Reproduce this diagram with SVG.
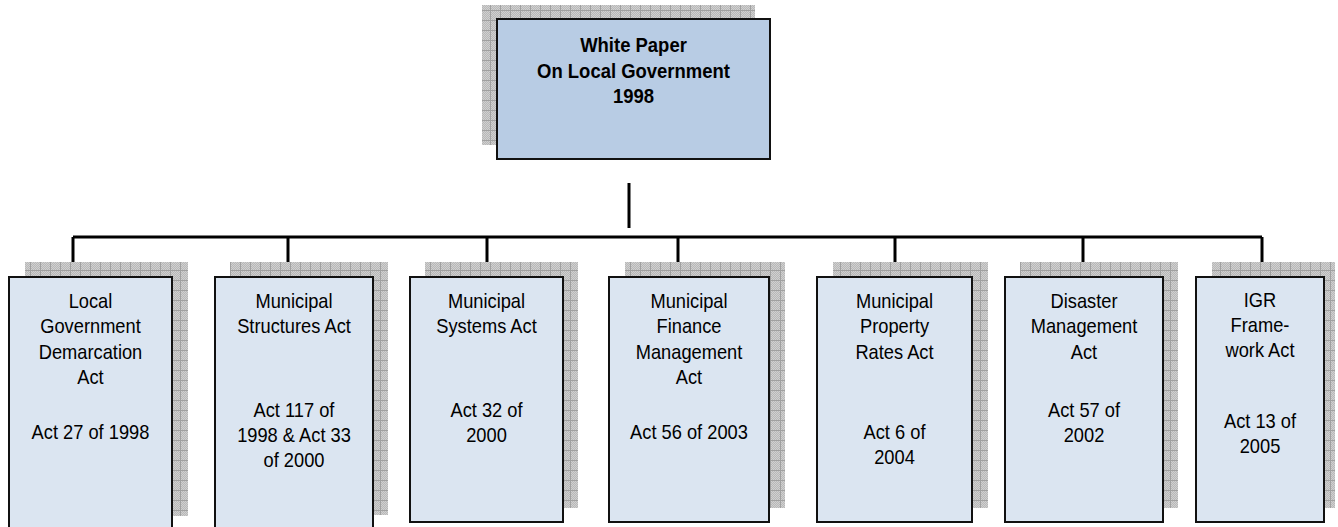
<svg xmlns="http://www.w3.org/2000/svg" width="1338" height="527" viewBox="0 0 1338 527">
  <defs>
    <!-- fine stipple used inside the shadow grid cells -->
    <pattern id="stipple" width="2" height="2" patternUnits="userSpaceOnUse">
      <rect width="2" height="2" fill="#b8b8b8"/>
      <rect width="1" height="1" fill="#d0d0d0"/>
      <rect x="1" y="1" width="1" height="1" fill="#d0d0d0"/>
    </pattern>
    <!-- gridded shadow texture -->
    <pattern id="grid" width="10" height="10" patternUnits="userSpaceOnUse">
      <rect width="10" height="10" fill="url(#stipple)"/>
      <rect width="10" height="1" fill="#a0a0a0"/>
      <rect width="1" height="10" fill="#a0a0a0"/>
    </pattern>
  </defs>
  <style>
    .shadow { fill: url(#grid); }
    .top { fill: #b8cce4; stroke: #111; stroke-width: 2; }
    .act { fill: #dbe5f1; stroke: #111; stroke-width: 2; }
    .wire { fill: none; stroke: #000; stroke-width: 3; }
    text { font-family: "Liberation Sans", Arial, sans-serif; font-size: 21px; fill: #000; text-anchor: middle; }
    .bold { font-weight: bold; }
  </style>

  <rect width="1338" height="527" fill="#fff"/>

  <!-- connectors -->
  <g id="connectors">
    <line class="wire" x1="629" y1="183" x2="629" y2="228"/>
    <line class="wire" x1="73" y1="237" x2="1262" y2="237"/>
    <line class="wire" x1="73" y1="237" x2="73" y2="268"/>
    <line class="wire" x1="288" y1="237" x2="288" y2="268"/>
    <line class="wire" x1="487" y1="237" x2="487" y2="268"/>
    <line class="wire" x1="678" y1="237" x2="678" y2="268"/>
    <line class="wire" x1="895" y1="237" x2="895" y2="268"/>
    <line class="wire" x1="1083" y1="237" x2="1083" y2="268"/>
    <line class="wire" x1="1262" y1="237" x2="1262" y2="268"/>
  </g>

  <!-- root node; labels use a condensed horizontal scale -->
  <g id="white-paper">
    <rect class="shadow" x="482" y="5" width="273" height="140"/>
    <rect class="top" x="497" y="19" width="273" height="140"/>
    <g transform="translate(633.5 0) scale(0.88 1)">
      <text class="bold" x="0" y="52">White Paper</text>
      <text class="bold" x="0" y="78">On Local Government</text>
      <text class="bold" x="0" y="103">1998</text>
    </g>
  </g>

  <g id="demarcation-act">
    <rect class="shadow" x="25" y="262" width="163" height="254"/>
    <rect class="act" x="9" y="277" width="163" height="260"/>
    <g transform="translate(90.5 0) scale(0.87 1)">
      <text x="0" y="308">Local</text>
      <text x="0" y="333">Government</text>
      <text x="0" y="359">Demarcation</text>
      <text x="0" y="384">Act</text>
      <text x="0" y="439">Act 27 of 1998</text>
    </g>
  </g>

  <g id="structures-act">
    <rect class="shadow" x="230" y="262" width="158" height="253"/>
    <rect class="act" x="215" y="277" width="158" height="260"/>
    <g transform="translate(294 0) scale(0.87 1)">
      <text x="0" y="308">Municipal</text>
      <text x="0" y="333">Structures Act</text>
      <text x="0" y="417">Act 117 of</text>
      <text x="0" y="442">1998 &amp; Act 33</text>
      <text x="0" y="467">of 2000</text>
    </g>
  </g>

  <g id="systems-act">
    <rect class="shadow" x="425" y="262" width="153" height="246"/>
    <rect class="act" x="410" y="277" width="153" height="245"/>
    <g transform="translate(486.5 0) scale(0.87 1)">
      <text x="0" y="308">Municipal</text>
      <text x="0" y="333">Systems Act</text>
      <text x="0" y="417">Act 32 of</text>
      <text x="0" y="442">2000</text>
    </g>
  </g>

  <g id="finance-act">
    <rect class="shadow" x="625" y="262" width="160" height="246"/>
    <rect class="act" x="609" y="277" width="160" height="245"/>
    <g transform="translate(689 0) scale(0.87 1)">
      <text x="0" y="308">Municipal</text>
      <text x="0" y="333">Finance</text>
      <text x="0" y="359">Management</text>
      <text x="0" y="384">Act</text>
      <text x="0" y="439">Act 56 of 2003</text>
    </g>
  </g>

  <g id="property-rates-act">
    <rect class="shadow" x="833" y="262" width="155" height="246"/>
    <rect class="act" x="817" y="277" width="155" height="245"/>
    <g transform="translate(894.5 0) scale(0.87 1)">
      <text x="0" y="308">Municipal</text>
      <text x="0" y="333">Property</text>
      <text x="0" y="359">Rates Act</text>
      <text x="0" y="439">Act 6 of</text>
      <text x="0" y="464">2004</text>
    </g>
  </g>

  <g id="disaster-act">
    <rect class="shadow" x="1020" y="262" width="158" height="246"/>
    <rect class="act" x="1005" y="277" width="158" height="245"/>
    <g transform="translate(1084 0) scale(0.87 1)">
      <text x="0" y="308">Disaster</text>
      <text x="0" y="333">Management</text>
      <text x="0" y="359">Act</text>
      <text x="0" y="417">Act 57 of</text>
      <text x="0" y="442">2002</text>
    </g>
  </g>

  <g id="igr-act">
    <rect class="shadow" x="1212" y="262" width="123" height="246"/>
    <rect class="act" x="1196" y="277" width="128" height="245"/>
    <g transform="translate(1260 0) scale(0.87 1)">
      <text x="0" y="307">IGR</text>
      <text x="0" y="332">Frame-</text>
      <text x="0" y="357">work Act</text>
      <text x="0" y="428">Act 13 of</text>
      <text x="0" y="453">2005</text>
    </g>
  </g>
</svg>
